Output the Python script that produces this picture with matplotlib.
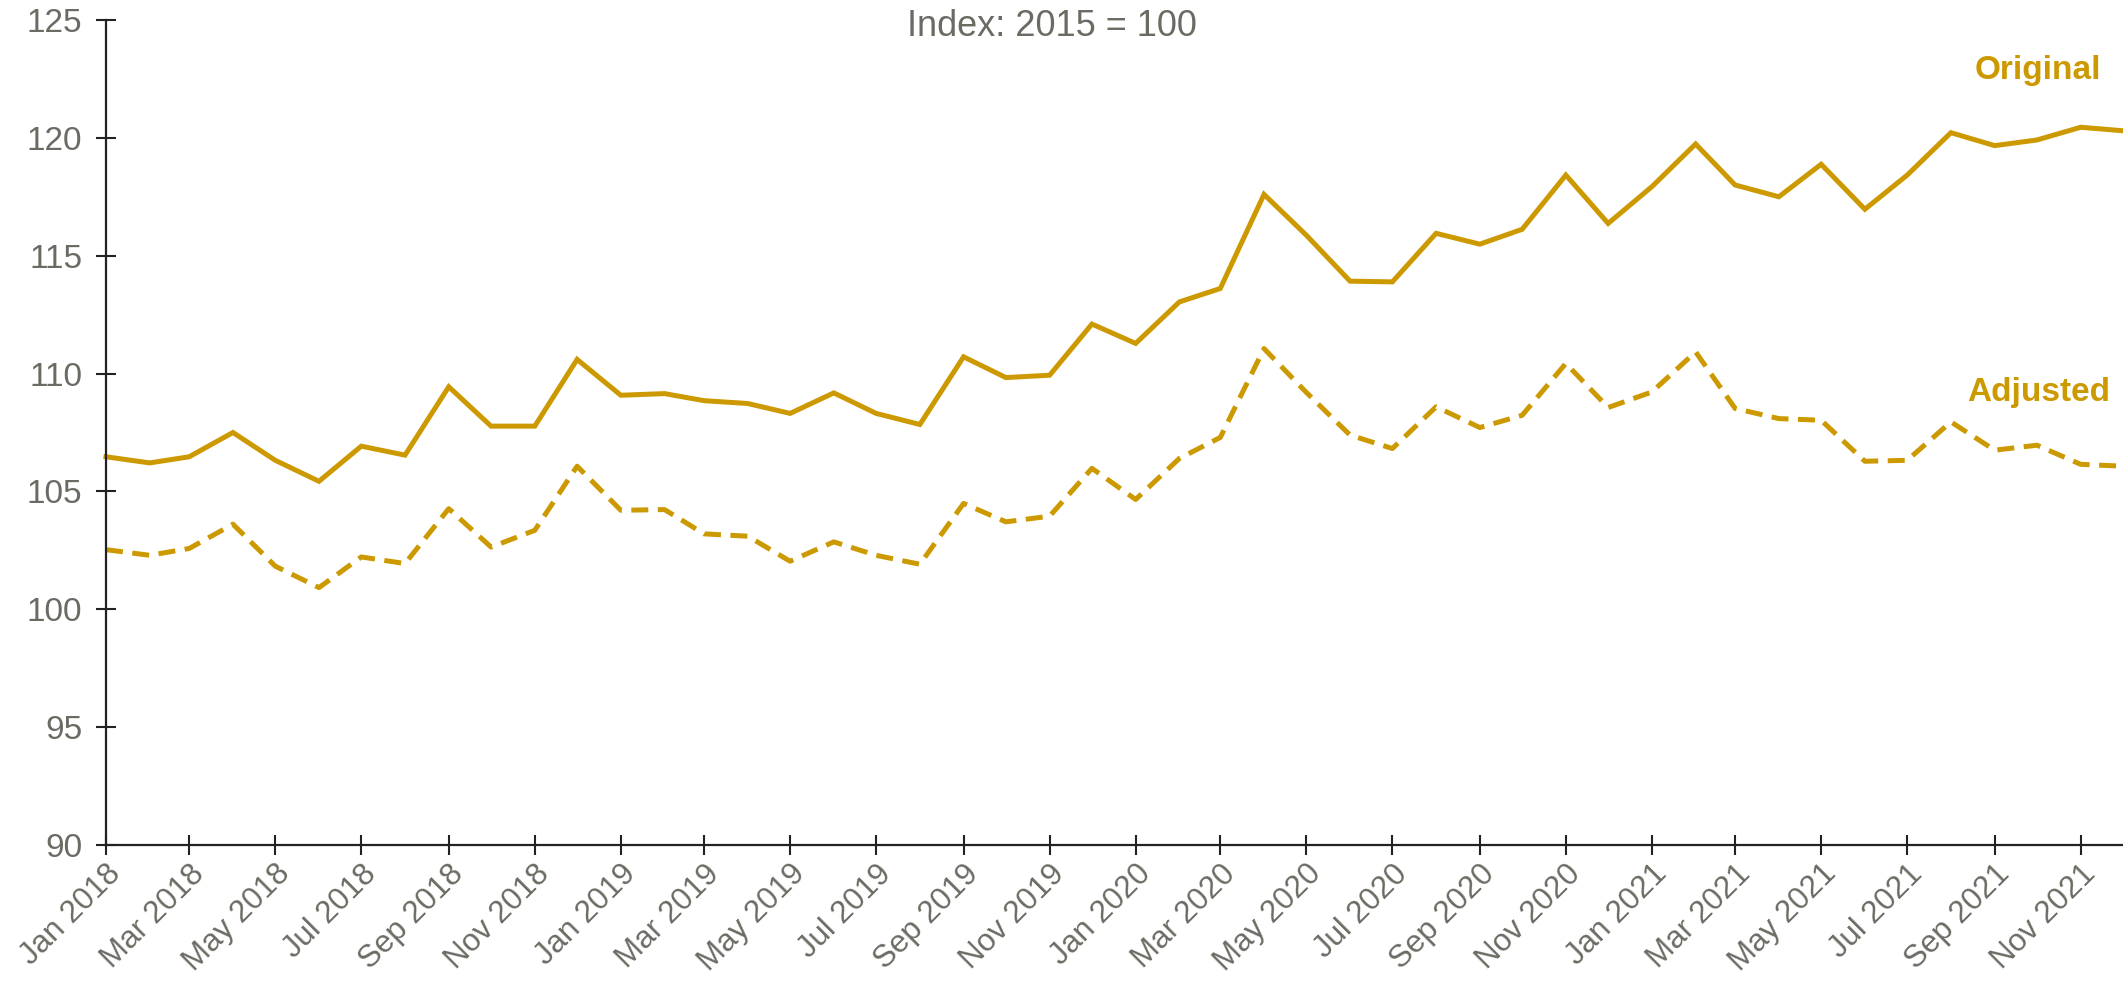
import numpy as np
import pandas as pd
import matplotlib
matplotlib.use("Agg")
import matplotlib.pyplot as plt  # noqa: E402
import matplotlib.dates as mdates  # noqa: E402

GOLD = "#CC9900"
GREY = "#6B6B63"

months = pd.date_range("2018-01-01", periods=48, freq="MS")

original = [106.47, 106.21, 106.47, 107.50, 106.32, 105.43, 106.92, 106.54, 109.44, 107.77, 107.77, 110.60,
            109.08, 109.15, 108.85, 108.73, 108.31, 109.18, 108.31, 107.84, 110.71, 109.83, 109.93, 112.10,
            111.28, 113.04, 113.61, 117.60, 115.87, 113.92, 113.89, 115.95, 115.49, 116.12, 118.42, 116.37,
            117.93, 119.74, 118.00, 117.50, 118.88, 116.97, 118.42, 120.22, 119.67, 119.91, 120.45, 120.30]

adjusted = [102.53, 102.29, 102.58, 103.61, 101.83, 100.92, 102.22, 101.94, 104.27, 102.64, 103.35, 106.07,
            104.20, 104.23, 103.20, 103.10, 102.04, 102.86, 102.29, 101.91, 104.49, 103.71, 103.95, 105.98,
            104.66, 106.40, 107.29, 111.06, 109.20, 107.39, 106.82, 108.59, 107.71, 108.23, 110.43, 108.56,
            109.22, 110.92, 108.52, 108.09, 108.02, 106.28, 106.32, 107.95, 106.75, 106.96, 106.15, 106.07]

yticks = [90, 95, 100, 105, 110, 115, 120, 125]

plt.rcParams["font.family"] = ["Liberation Sans", "DejaVu Sans"]

fig = plt.figure(figsize=(21.23, 9.81), dpi=100)
ax = fig.add_axes([106 / 2123, 136 / 981, 1 - 106 / 2123, 825 / 981])

ax.plot(months, original, color=GOLD, lw=3.6, clip_on=False, solid_joinstyle="miter")
ax.plot(months, adjusted, color=GOLD, lw=3.6, ls=(0, (3.4, 1.9)), clip_on=False)

ax.set_xlim(months[0], months[-1])
ax.set_ylim(90, 125)
ax.set_yticks(yticks)

ax.xaxis.set_major_locator(mdates.MonthLocator(bymonth=[1, 3, 5, 7, 9, 11]))
ax.xaxis.set_major_formatter(mdates.DateFormatter("%b %Y"))
for lab in ax.get_xticklabels():
    lab.set_rotation(45)
    lab.set_ha("right")
    lab.set_rotation_mode("anchor")

ax.tick_params(axis="both", direction="inout", length=14, width=1.5, color="#222222",
               labelcolor=GREY)
ax.tick_params(axis="x", pad=3, labelsize=22.5)
ax.tick_params(axis="y", pad=10, labelsize=24)

for s in ["top", "right"]:
    ax.spines[s].set_visible(False)
for s in ["left", "bottom"]:
    ax.spines[s].set_linewidth(1.6)
    ax.spines[s].set_color("#222222")

ax.text(0.989, 0.939, "Original", transform=ax.transAxes, ha="right", va="center",
        fontsize=24, fontweight="bold", color=GOLD)
ax.text(0.9936, 0.548, "Adjusted", transform=ax.transAxes, ha="right", va="center",
        fontsize=24, fontweight="bold", color=GOLD)

fig.text(1052 / 2123, 1 - 27 / 981, "Index: 2015 = 100", ha="center", va="center",
         fontsize=26, color=GREY)

fig.savefig("out.png", dpi=100)
